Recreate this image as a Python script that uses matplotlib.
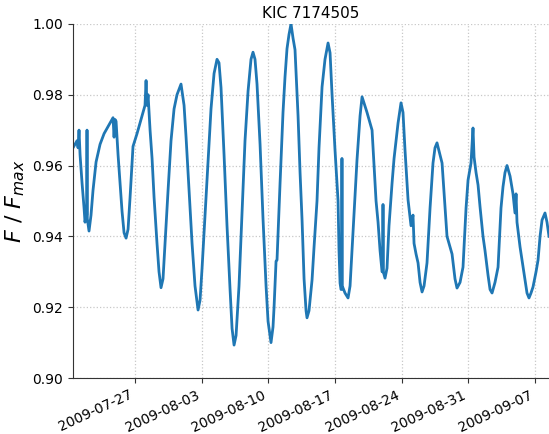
import datetime
import numpy as np
import matplotlib
matplotlib.use('Agg')
import matplotlib.pyplot as plt
import matplotlib.dates as mdates

# Light curve: days since 2009-07-20 and normalised flux
days = [0.49, 0.70, 0.91, 1.02, 1.12, 1.23, 1.44, 1.65, 1.75, 1.86, 1.93, 1.96, 1.99,
        2.17, 2.38, 2.59, 2.91, 3.33, 3.75, 4.17, 4.48, 4.69, 4.80, 4.90, 5.01, 5.22,
        5.43, 5.64, 5.85, 6.06, 6.27, 6.48, 6.79, 7.21, 7.63, 8.05, 8.16, 8.26, 8.37,
        8.47, 8.58, 8.79, 9.00, 9.31, 9.52, 9.73, 9.94, 10.15, 10.47, 10.78, 11.10,
        11.41, 11.83, 12.15, 12.36, 12.67, 12.99, 13.30, 13.62, 13.83, 14.04, 14.35,
        14.67, 14.98, 15.30, 15.61, 15.82, 16.03, 16.35, 16.66, 16.98, 17.19, 17.40,
        17.61, 17.92, 18.24, 18.55, 18.87, 19.18, 19.39, 19.60, 19.81, 20.13, 20.44,
        20.76, 20.97, 21.28, 21.49, 21.60, 21.70, 21.81, 21.91, 22.23, 22.54, 22.75,
        22.96, 23.17, 23.38, 23.59, 23.80, 24.12, 24.33, 24.54, 24.75, 24.96, 25.06,
        25.27, 25.59, 25.80, 26.11, 26.32, 26.64, 26.95, 27.27, 27.48, 27.69, 28.00,
        28.21, 28.32, 28.42, 28.53, 28.63, 28.70, 28.73, 28.76, 29.05, 29.37, 29.58,
        29.89, 30.10, 30.31, 30.63, 30.84, 31.36, 31.89, 32.10, 32.31, 32.52, 32.73,
        32.94, 33.01, 33.04, 33.07, 33.25, 33.46, 33.67, 33.99, 34.20, 34.41, 34.62,
        34.93, 35.14, 35.35, 35.67, 35.98, 36.19, 36.30, 36.51, 36.72, 36.93, 37.14,
        37.35, 37.66, 37.98, 38.29, 38.50, 38.71, 39.03, 39.24, 39.55, 39.76, 40.08,
        40.29, 40.60, 40.81, 41.13, 41.44, 41.76, 41.97, 42.28, 42.49, 42.60, 42.81,
        43.02, 43.23, 43.54, 43.75, 44.07, 44.28, 44.49, 44.80, 45.12, 45.43, 45.64,
        45.85, 46.06, 46.38, 46.69, 46.90, 47.01, 47.11, 47.43, 47.64, 47.95, 48.16,
        48.37, 48.58, 48.79, 49.11, 49.32, 49.53, 49.74, 49.95, 50.05, 50.26, 50.47]

flux = [0.965, 0.966, 0.967, 0.965, 0.970, 0.963, 0.955, 0.948, 0.944, 0.946, 0.946, 0.970, 0.945,
        0.9415, 0.946, 0.953, 0.961, 0.966, 0.969, 0.971, 0.9725, 0.9735, 0.968, 0.973, 0.9725, 0.963,
        0.955, 0.947, 0.941, 0.9395, 0.942, 0.951, 0.9654, 0.969, 0.973, 0.977, 0.984, 0.977, 0.980,
        0.975, 0.970, 0.962, 0.951, 0.938, 0.930, 0.9255, 0.928, 0.938, 0.953, 0.967, 0.976,
        0.980, 0.983, 0.977, 0.968, 0.953, 0.938, 0.926, 0.9192, 0.922, 0.931, 0.946,
        0.962, 0.976, 0.986, 0.990, 0.989, 0.982, 0.963, 0.943, 0.925, 0.914, 0.9093,
        0.912, 0.926, 0.947, 0.967, 0.981, 0.990, 0.992, 0.990, 0.983, 0.966, 0.945,
        0.926, 0.916, 0.910, 0.9144, 0.920, 0.926, 0.933, 0.9333, 0.955, 0.975, 0.985,
        0.993, 0.997, 1.000, 0.996, 0.9927, 0.974, 0.958, 0.9446, 0.928, 0.919, 0.917,
        0.919, 0.9277, 0.937, 0.950, 0.965, 0.9822, 0.990, 0.9946, 0.9918, 0.980, 0.9644,
        0.955, 0.950, 0.936, 0.9268, 0.925, 0.925, 0.962, 0.926, 0.924, 0.9226, 0.926,
        0.941, 0.951, 0.9616, 0.974, 0.9794, 0.975, 0.970, 0.960, 0.950, 0.944, 0.936,
        0.930, 0.930, 0.949, 0.930, 0.9282, 0.931, 0.943, 0.955, 0.962, 0.967, 0.972,
        0.9777, 0.975, 0.9644, 0.9503, 0.943, 0.946, 0.938, 0.935, 0.9325, 0.927, 0.9243,
        0.926, 0.9325, 0.948, 0.9607, 0.965, 0.9664, 0.963, 0.9607, 0.9483, 0.940, 0.937,
        0.935, 0.928, 0.9254, 0.927, 0.9313, 0.948, 0.9559, 0.9607, 0.9706, 0.9624, 0.958,
        0.9545, 0.9483, 0.940, 0.936, 0.929, 0.925, 0.924, 0.927, 0.9313, 0.948, 0.954,
        0.958, 0.960, 0.957, 0.952, 0.9466, 0.952, 0.944, 0.937, 0.9333, 0.928, 0.924,
        0.9226, 0.924, 0.9257, 0.930, 0.9333, 0.940, 0.9446, 0.946, 0.9466, 0.944, 0.940]

y_ticks = [0.90, 0.92, 0.94, 0.96, 0.98, 1.00]

t0 = datetime.datetime(2009, 7, 20)
dates = [t0 + datetime.timedelta(days=d) for d in days]

fig = plt.figure(figsize=(5.49, 4.34), dpi=100)
ax = fig.add_axes([0.133, 0.129, 0.867, 0.816])

ax.plot(dates, flux, color='#1f77b4', linewidth=2.0)

ax.set_xlim(dates[0], dates[-1])
ax.set_ylim(0.90, 1.00)
ax.set_yticks(y_ticks)
ax.set_yticklabels([f'{v:.2f}' for v in y_ticks])

ax.xaxis.set_major_locator(mdates.WeekdayLocator(byweekday=mdates.MO))
ax.xaxis.set_major_formatter(mdates.DateFormatter('%Y-%m-%d'))
for lbl in ax.get_xticklabels():
    lbl.set_rotation(25)
    lbl.set_ha('right')

ax.tick_params(labelsize=10, color='#333333')
ax.grid(True, linestyle=':', color='#c8c8c8', linewidth=0.9)
ax.spines['top'].set_visible(False)
ax.spines['right'].set_visible(False)
for s in ('left', 'bottom'):
    ax.spines[s].set_color('#333333')

ax.set_ylabel(r'$F\ /\ F_{max}$', fontsize=16)
ax.set_title('KIC 7174505', fontsize=11, pad=4)

plt.savefig('out.png', dpi=100)
